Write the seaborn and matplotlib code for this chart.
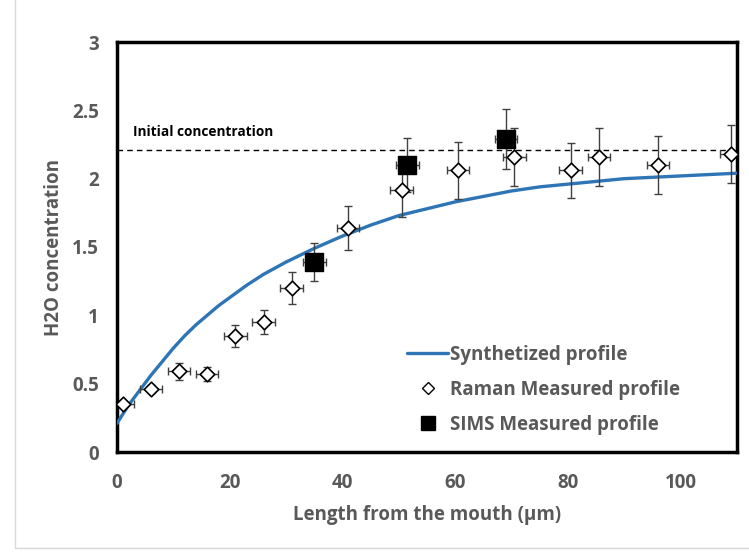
import numpy as np
import pandas as pd
import matplotlib.pyplot as plt
import seaborn as sns
from matplotlib.lines import Line2D
from matplotlib.patches import Rectangle

# Synthetized profile
curve_x = [0, 2, 4, 6, 8, 10, 12, 14, 16, 18, 20, 23, 26, 30, 35, 40, 45, 50, 55, 60,
           65, 70, 75, 80, 85, 90, 95, 100, 105, 110]
curve_y = [0.21, 0.34, 0.45, 0.56, 0.66, 0.76, 0.85, 0.93, 1.00, 1.07, 1.13, 1.22, 1.30, 1.39,
           1.49, 1.58, 1.66, 1.73, 1.78, 1.83, 1.87, 1.91, 1.94, 1.96, 1.98, 2.00, 2.01, 2.02,
           2.03, 2.04]

# Raman measured profile
raman_x = [1, 6, 11, 16, 21, 26, 31, 41, 50.5, 60.5, 70.5, 80.5, 85.5, 96, 109]
raman_y = [0.35, 0.46, 0.59, 0.57, 0.85, 0.95, 1.20, 1.64, 1.92, 2.06, 2.16, 2.06, 2.16, 2.10, 2.18]
raman_yerr = [0.02, 0.03, 0.06, 0.05, 0.08, 0.09, 0.12, 0.16, 0.20, 0.21, 0.21, 0.20, 0.21, 0.21, 0.21]
raman_xerr = [2] * len(raman_x)

# SIMS measured profile
sims_x = [35, 51.5, 69]
sims_y = [1.39, 2.10, 2.29]
sims_yerr = [0.14, 0.20, 0.22]
sims_xerr = [2, 2, 2]

initial_conc = 2.21

sns.set_theme(style="white")
fam = ['Open Sans', 'DejaVu Sans']
plt.rcParams['font.family'] = fam
grey = '#595959'

fig = plt.figure(figsize=(7.49, 5.56), dpi=100)
ax = fig.add_axes([117 / 749, 1 - 452 / 556, 620 / 749, 410 / 556])

curve_df = pd.DataFrame({'x': curve_x, 'y': curve_y})
sns.lineplot(data=curve_df, x='x', y='y', ax=ax, color='#2e75b6', linewidth=2.4, zorder=3)

ax.axhline(initial_conc, color='black', linestyle=(0, (4, 3)), linewidth=1, zorder=2)
ax.text(2.8, initial_conc + 0.135, 'Initial concentration', fontsize=9.8, fontweight='bold',
        color='black', va='center')

ax.errorbar(raman_x, raman_y, yerr=raman_yerr, xerr=raman_xerr, fmt='none',
            ecolor='#404040', elinewidth=1, capsize=3, capthick=1, zorder=4)
ax.errorbar(sims_x, sims_y, yerr=sims_yerr, xerr=sims_xerr, fmt='none',
            ecolor='#404040', elinewidth=1, capsize=3, capthick=1, zorder=4)

raman_df = pd.DataFrame({'x': raman_x, 'y': raman_y})
sims_df = pd.DataFrame({'x': sims_x, 'y': sims_y})
sns.scatterplot(data=raman_df, x='x', y='y', ax=ax, marker='D', s=55, color='white',
                edgecolor='black', linewidth=1.2, zorder=5)
sns.scatterplot(data=sims_df, x='x', y='y', ax=ax, marker='s', s=160, color='black',
                edgecolor='black', linewidth=1, zorder=6)

ax.set_xlim(0, 110)
ax.set_ylim(0, 3)
ax.set_xticks([0, 20, 40, 60, 80, 100])
ax.set_yticks([0, 0.5, 1, 1.5, 2, 2.5, 3])
ax.set_yticklabels(['0', '0.5', '1', '1.5', '2', '2.5', '3'])
ax.tick_params(axis='both', labelsize=13.5, colors=grey, length=0)
ax.tick_params(axis='x', pad=15)
ax.tick_params(axis='y', pad=13)
for lab in ax.get_xticklabels() + ax.get_yticklabels():
    lab.set_fontweight('bold')

ax.set_xlabel('Length from the mouth (µm)', fontsize=13.5, fontweight='bold', color=grey, labelpad=9)
ax.set_ylabel('H2O concentration', fontsize=13.5, fontweight='bold', color=grey, labelpad=6)

for sp in ax.spines.values():
    sp.set_visible(True)
    sp.set_color('black')
    sp.set_linewidth(2.5)

handles = [
    Line2D([0], [0], color='#2e75b6', linewidth=2.4),
    Line2D([0], [0], marker='D', linestyle='none', markerfacecolor='white',
           markeredgecolor='black', markersize=6),
    Line2D([0], [0], marker='s', linestyle='none', markerfacecolor='black',
           markeredgecolor='black', markersize=10),
]
labels = ['Synthetized profile', 'Raman Measured profile', 'SIMS Measured profile']
leg = ax.legend(handles, labels, loc='upper left', bbox_to_anchor=(0.468, 0.262), frameon=False,
                prop={'family': fam, 'weight': 'bold', 'size': 13.5},
                handlelength=2.2, handletextpad=0.1, labelspacing=0.8,
                borderpad=0, borderaxespad=0)
for t in leg.get_texts():
    t.set_color(grey)

# light frame around the whole chart
fig.patches.append(Rectangle((15 / 749, 8 / 556), 1.1, 1.1, transform=fig.transFigure,
                             fill=False, edgecolor='#d9d9d9', linewidth=1))

fig.savefig('out.png', dpi=100)
